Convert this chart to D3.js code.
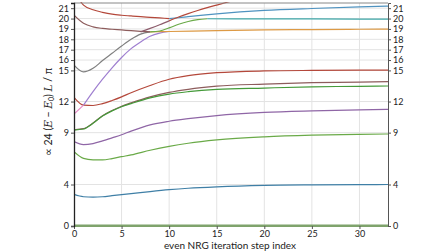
<!DOCTYPE html>
<html>
<head>
<meta charset="utf-8">
<script src="https://cdn.jsdelivr.net/npm/d3@7"></script>
<style>
  body { margin: 0; background: #fff; }
  text { font-family: Lato, "Open Sans", sans-serif; fill: #222; }
</style>
</head>
<body>
<svg id="chart" width="448" height="252"></svg>
<script>
// x positions (even NRG step index) for the long flows
const steps = [0, 1, 2, 3, 4, 5, 6, 8, 10, 12, 15, 20, 25, 30, 33];

const ground    = [0, 0, 0, 0, 0, 0, 0, 0, 0, 0, 0, 0, 0, 0, 0];
const blueLow   = [3.05, 2.82, 2.78, 2.82, 2.92, 3.02, 3.12, 3.32, 3.5, 3.64, 3.78, 3.92, 3.97, 3.99, 4.0];
const greenLow  = [7.16, 6.52, 6.38, 6.37, 6.5, 6.68, 6.85, 7.3, 7.68, 7.98, 8.3, 8.6, 8.76, 8.84, 8.87];
const purpleLow = [8.15, 7.85, 7.95, 8.2, 8.5, 8.8, 9.15, 9.75, 10.1, 10.35, 10.65, 10.95, 11.1, 11.2, 11.24];
const greenMid  = [9.25, 9.35, 9.9, 10.6, 11.1, 11.5, 11.8, 12.35, 12.72, 12.95, 13.17, 13.3, 13.42, 13.47, 13.5];
const brownMid  = [9.28, 9.38, 9.93, 10.63, 11.13, 11.55, 11.87, 12.45, 12.88, 13.18, 13.48, 13.68, 13.82, 13.88, 13.92];
const redMid    = [12.4, 11.65, 11.62, 11.8, 12.1, 12.45, 12.85, 13.55, 14.15, 14.5, 14.78, 14.95, 15.0, 15.02, 15.03];

// shorter pieces of the upper flows
const pinkSteps = [0, 1];
const pink      = [10.8, 11.65];
const lavSteps  = [1, 2, 3, 4, 5, 6, 7, 8, 9, 10];
const lavender  = [11.65, 12.95, 14.15, 15.25, 16.25, 17.1, 17.75, 18.3, 18.6, 18.75];
const graySteps = [0, 1, 2, 3, 4, 5, 6, 7, 8];
const gray      = [15.5, 14.85, 15.2, 15.95, 16.65, 17.35, 18.0, 18.5, 18.72];
const brownTop  = [20.33, 19.55, 19.2, 19.05, 18.97, 18.9, 18.83, 18.77, 18.72];
const orangeSteps = [8, 10, 15, 20, 25, 30, 33];
const orange    = [18.72, 18.75, 18.84, 18.9, 18.94, 18.97, 18.98];
const greenUpSteps = [8, 9, 10, 11, 12, 13, 14];
const greenUp   = [18.72, 18.8, 19.1, 19.45, 19.72, 19.9, 19.98];
const cyanSteps = [14, 20, 25, 30, 33];
const cyan      = [19.98, 19.97, 19.96, 19.95, 19.94];
const blueTopSteps = [10, 11, 12, 15, 20, 25, 30, 33];
const blueTop   = [20.0, 20.08, 20.18, 20.45, 20.78, 20.97, 21.12, 21.2];
const mauveSteps = [7, 8, 9, 10];
const mauve     = [18.72, 19.05, 19.4, 19.78];
const redUpSteps = [10, 11, 12, 13, 14, 15, 16, 17];
const redUp     = [19.78, 20.15, 20.48, 20.78, 21.05, 21.3, 21.55, 21.8];
const redTopSteps = [0, 1, 2, 3, 4, 5, 6, 7, 8, 9, 10];
const redTop    = [22.6, 21.3, 20.85, 20.6, 20.42, 20.32, 20.25, 20.18, 20.12, 20.06, 20.0];

const xTicks = [0, 5, 10, 15, 20, 25, 30];
const yTicks = [0, 4, 9, 12, 15, 16, 17, 18, 19, 20, 21];

const series = [
  { xs: steps, ys: ground, color: "#7fa36c", w: 3 },
  { xs: steps, ys: blueLow, color: "#3f7fa6", w: 1.2 },
  { xs: steps, ys: greenLow, color: "#6aaa48", w: 1.2 },
  { xs: steps, ys: purpleLow, color: "#8f66a6", w: 1.2 },
  { xs: steps, ys: brownMid, color: "#8d5c5c", w: 1.2 },
  { xs: steps, ys: greenMid, color: "#459a3a", w: 1.2 },
  { xs: steps, ys: redMid, color: "#b4483b", w: 1.2 },
  { xs: pinkSteps, ys: pink, color: "#e58ac6", w: 1.2 },
  { xs: lavSteps, ys: lavender, color: "#9f7fd0", w: 1.2 },
  { xs: graySteps, ys: gray, color: "#7f7f7f", w: 1.2 },
  { xs: graySteps, ys: brownTop, color: "#8d5c5c", w: 1.2 },
  { xs: orangeSteps, ys: orange, color: "#dd9a45", w: 1.2 },
  { xs: greenUpSteps, ys: greenUp, color: "#6aaa48", w: 1.2 },
  { xs: cyanSteps, ys: cyan, color: "#3fa7a8", w: 1.2 },
  { xs: blueTopSteps, ys: blueTop, color: "#4f93c0", w: 1.2 },
  { xs: mauveSteps, ys: mauve, color: "#8d5c6c", w: 1.2 },
  { xs: redUpSteps, ys: redUp, color: "#b4483b", w: 1.2 },
  { xs: redTopSteps, ys: redTop, color: "#b4483b", w: 1.2 }
];

const margin = { top: 3, right: 60, bottom: 26, left: 74 };
const width = 448 - margin.left - margin.right;
const height = 252 - margin.top - margin.bottom;

const svg = d3.select("#chart")
  .append("g")
  .attr("transform", `translate(${margin.left},${margin.top})`);

const x = d3.scaleLinear().domain([0, 33]).range([0, width]);
const y = d3.scaleLinear().domain([0, 21.5]).range([height, 0]);

// grid
svg.append("g")
  .selectAll("line")
  .data(xTicks.slice(1))
  .join("line")
  .attr("x1", d => x(d)).attr("x2", d => x(d))
  .attr("y1", 0).attr("y2", height)
  .attr("stroke", "#e3e3e3").attr("stroke-width", 1);

svg.append("g")
  .selectAll("line")
  .data(yTicks.slice(1))
  .join("line")
  .attr("x1", 0).attr("x2", width)
  .attr("y1", d => y(d)).attr("y2", d => y(d))
  .attr("stroke", "#e3e3e3").attr("stroke-width", 1);

// lines
svg.append("clipPath").attr("id", "clip")
  .append("rect").attr("width", width).attr("height", height + 2).attr("y", -1);

const line = d3.line()
  .x(d => x(d[0]))
  .y(d => y(d[1]))
  .curve(d3.curveMonotoneX);

svg.append("g")
  .attr("clip-path", "url(#clip)")
  .selectAll("path")
  .data(series)
  .join("path")
  .attr("fill", "none")
  .attr("stroke", d => d.color)
  .attr("stroke-width", d => d.w)
  .attr("d", d => line(d.xs.map((v, i) => [v, d.ys[i]])));

// frame
svg.append("line").attr("x1", 0).attr("x2", width).attr("y1", 0).attr("y2", 0)
  .attr("stroke", "#888").attr("stroke-width", 1);

// axes
const xAxis = svg.append("g")
  .attr("transform", `translate(0,${height})`)
  .call(d3.axisBottom(x).tickValues(xTicks).tickSize(3).tickPadding(2));

const yAxisL = svg.append("g")
  .call(d3.axisLeft(y).tickValues(yTicks).tickSize(3).tickPadding(2));

const yAxisR = svg.append("g")
  .attr("transform", `translate(${width},0)`)
  .call(d3.axisRight(y).tickValues(yTicks).tickSize(3).tickPadding(2));

[xAxis, yAxisL, yAxisR].forEach(a => {
  a.select(".domain").attr("stroke", "#555");
  a.selectAll(".tick line").attr("stroke", "#555");
  a.selectAll("text").attr("font-size", 9).attr("font-family", "Lato, sans-serif").attr("fill", "#222");
});
yAxisL.select(".domain").attr("stroke", "#222").attr("stroke-width", 1.3);
xAxis.select(".domain").remove();

// x axis title
svg.append("text")
  .attr("text-anchor", "middle")
  .attr("x", width / 2 - 1)
  .attr("y", height + 23)
  .attr("font-size", 10)
  .text("even NRG iteration step index");

// y axis title
const yt = svg.append("text")
  .attr("text-anchor", "middle")
  .attr("transform", `translate(${-22},${112 - margin.top}) rotate(-90)`)
  .attr("font-size", 10.5);
yt.append("tspan").text("∝ 24 (");
yt.append("tspan").attr("font-style", "italic").attr("font-family", "DejaVu Serif, serif").text("E");
yt.append("tspan").text(" − ");
yt.append("tspan").attr("font-style", "italic").attr("font-family", "DejaVu Serif, serif").text("E");
yt.append("tspan").attr("font-size", 7).attr("dy", 2).text("0");
yt.append("tspan").attr("dy", -2).text(") ");
yt.append("tspan").attr("font-style", "italic").attr("font-family", "DejaVu Serif, serif").text("L");
yt.append("tspan").text(" / π");
</script>
</body>
</html>
